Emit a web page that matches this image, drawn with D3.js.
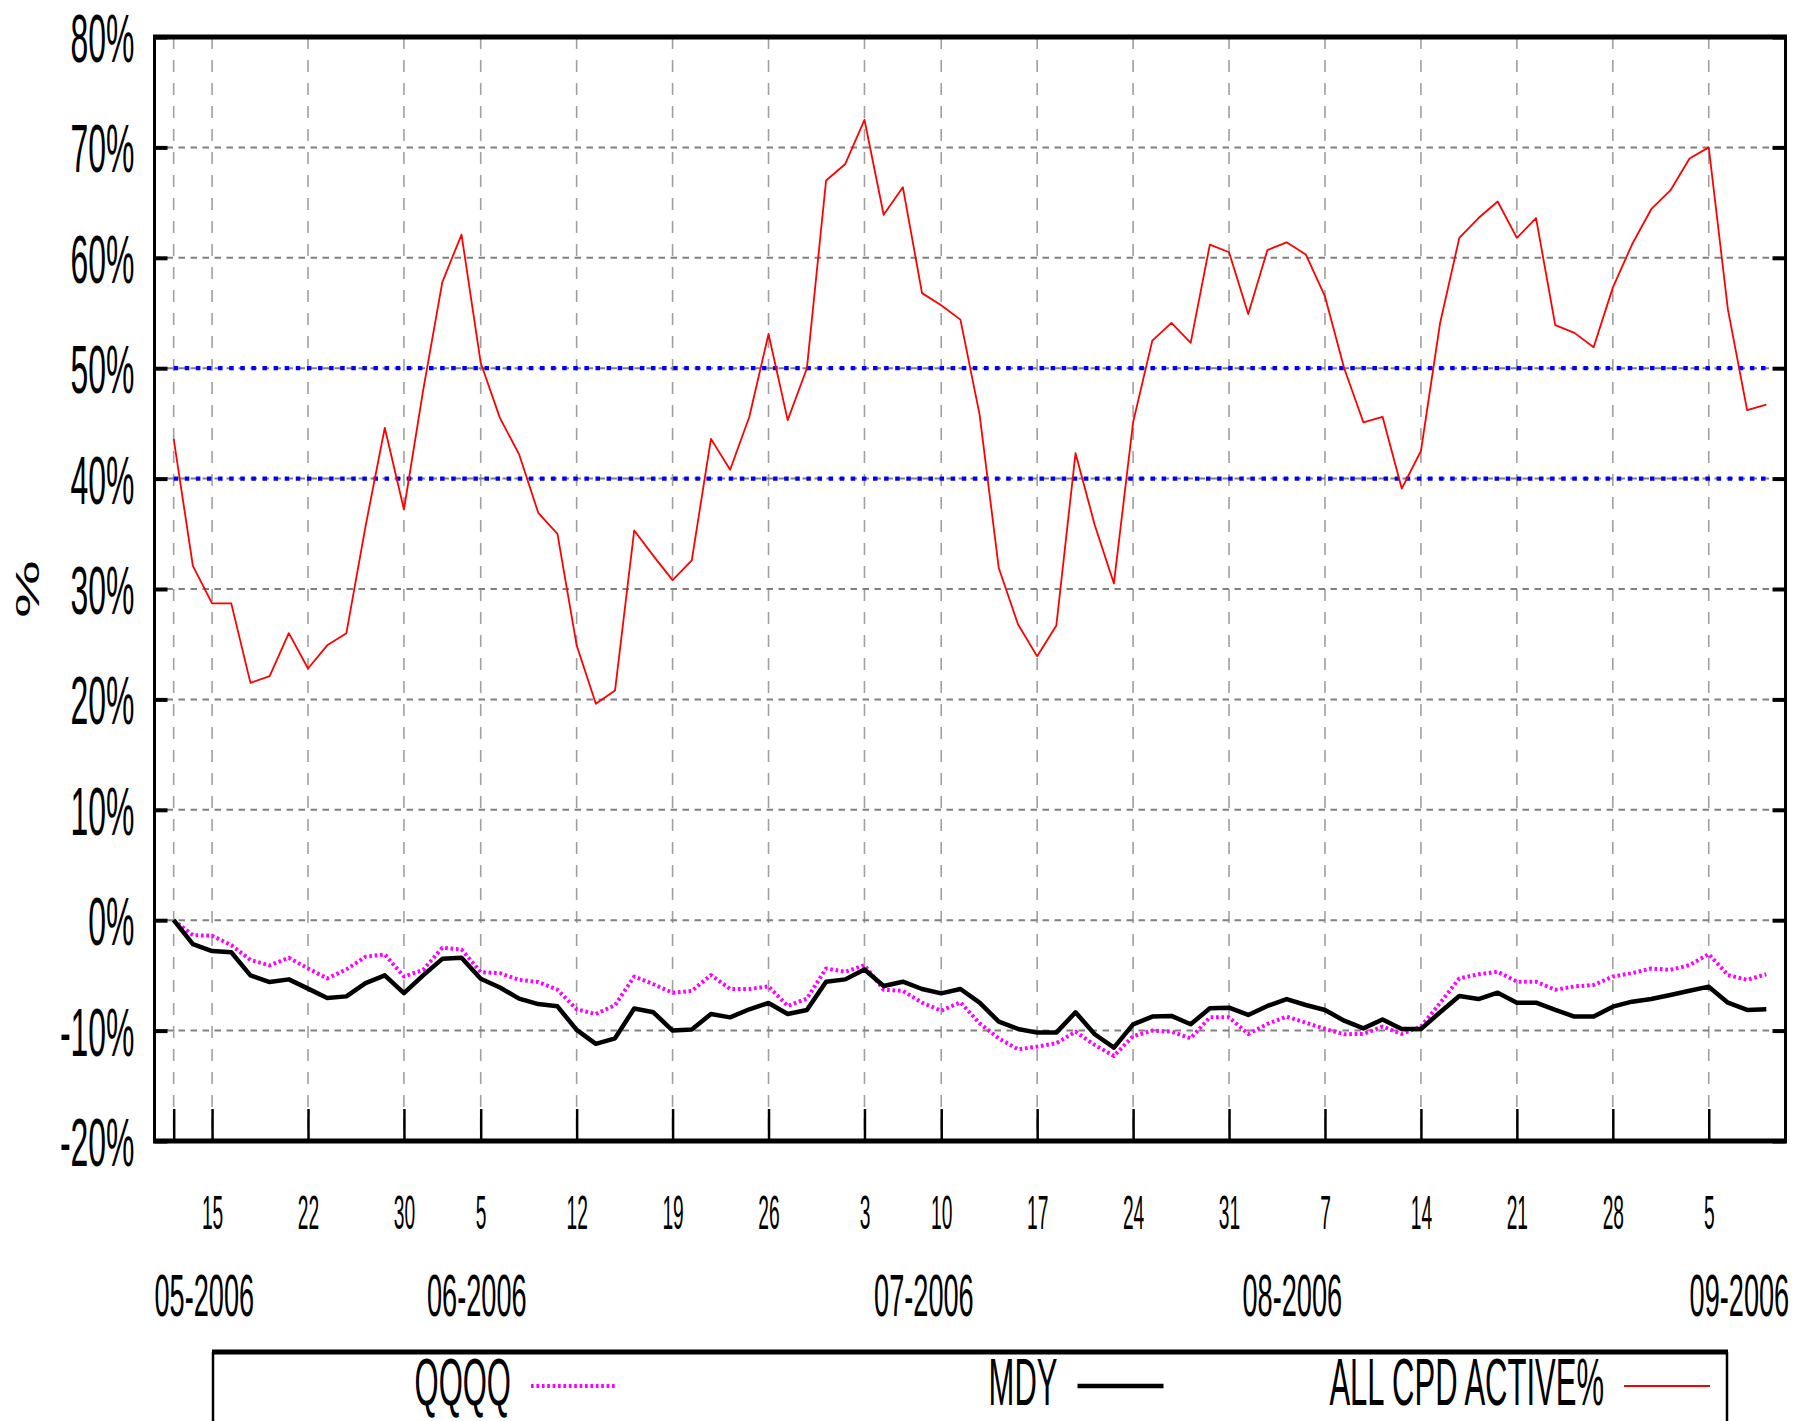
<!DOCTYPE html>
<html>
<head>
<meta charset="utf-8">
<script src="https://cdn.jsdelivr.net/npm/d3@7"></script>
<style>
  html, body { margin: 0; padding: 0; background: #fff; }
  svg { display: block; }
  text { font-family: "Liberation Sans", Arial, Helvetica, sans-serif; fill: #000; }
</style>
</head>
<body>
<svg id="chart" width="1798" height="1421"></svg>
<script>
// trading days 11 May 2006 .. 8 Sep 2006, one value per day (percent)
const qqqq = [0, -1.36, -1.4, -2.26, -3.6, -4.1, -3.4, -4.37, -5.27, -4.46,
  -3.3, -3.1, -5.1, -4.5, -2.5, -2.65, -4.7, -4.8, -5.4, -5.6,
  -6.3, -8.07, -8.5, -7.7, -5.1, -5.8, -6.57, -6.4, -4.97, -6.23,
  -6.23, -6.0, -7.77, -7.1, -4.37, -4.67, -4.07, -6.3, -6.4, -7.47,
  -8.2, -7.44, -9.34, -10.7, -11.7, -11.45, -11.14, -10.1, -11.3, -12.3,
  -10.5, -10.0, -10.1, -10.7, -8.8, -8.8, -10.3, -9.4, -8.73, -9.28,
  -9.85, -10.33, -10.3, -9.64, -10.3, -9.64, -7.5, -5.27, -4.9, -4.67,
  -5.57, -5.57, -6.3, -6.0, -5.87, -5.1, -4.8, -4.37, -4.5, -4.07,
  -3.07, -4.97, -5.4, -4.9];

const mdy = [0, -2.17, -2.8, -2.9, -5.0, -5.6, -5.36, -6.2, -7.05, -6.9,
  -5.7, -5.0, -6.6, -5.0, -3.5, -3.4, -5.3, -6.1, -7.1, -7.6,
  -7.8, -9.94, -11.2, -10.7, -8.0, -8.34, -10.0, -9.9, -8.5, -8.8,
  -8.07, -7.5, -8.5, -8.13, -5.57, -5.36, -4.46, -5.96, -5.57, -6.23,
  -6.63, -6.23, -7.47, -9.19, -9.85, -10.18, -10.18, -8.34, -10.33, -11.54,
  -9.43, -8.73, -8.67, -9.43, -7.98, -7.92, -8.58, -7.77, -7.14, -7.68,
  -8.13, -9.1, -9.8, -9.0, -9.85, -9.85, -8.34, -6.87, -7.14, -6.57,
  -7.47, -7.47, -8.13, -8.73, -8.73, -7.83, -7.38, -7.14, -6.78, -6.39,
  -6.02, -7.47, -8.13, -8.07];

const cpdActive = [43.6, 32.1, 28.7, 28.7, 21.5, 22.1, 26.0, 22.8, 24.9, 26.0,
  35.7, 44.6, 37.2, 48.0, 57.8, 62.1, 50.5, 45.5, 42.2, 36.9,
  35.0, 24.9, 19.6, 20.8, 35.3, 33.0, 30.8, 32.6, 43.6, 40.8,
  45.6, 53.1, 45.3, 50.0, 67.0, 68.5, 72.5, 63.9, 66.4, 56.8,
  55.7, 54.4, 45.8, 31.9, 26.8, 23.9, 26.7, 42.3, 35.8, 30.5,
  45.1, 52.5, 54.1, 52.3, 61.2, 60.5, 54.9, 60.7, 61.4, 60.3,
  56.5, 50.0, 45.1, 45.6, 39.1, 42.5, 54.1, 61.8, 63.6, 65.1,
  61.8, 63.6, 53.9, 53.2, 51.9, 57.3, 61.2, 64.4, 66.1, 69.0,
  70.0, 55.3, 46.2, 46.7];

const bands = [50, 40];

// week ticks: index of trading day, and its day-of-month label
const weekTicks = [0, 2, 7, 12, 16, 21, 26, 31, 36, 40, 45, 50, 55, 60, 65, 70, 75, 80];
const weekLabels = ['', '15', '22', '30', '5', '12', '19', '26', '3', '10', '17', '24', '31', '7', '14', '21', '28', '5'];
const months = ['05-2006', '06-2006', '07-2006', '08-2006', '09-2006'];
const monthStart = [-1, 13.2, 36.5, 55.7, 79];
const yTicks = [-20, -10, 0, 10, 20, 30, 40, 50, 60, 70, 80];
const legendNames = ['QQQQ', 'MDY', 'ALL CPD ACTIVE%'];

const styles = {
  QQQQ: { color: '#ff00ff', width: 4, dash: '2.7,2.7' },
  MDY: { color: '#000000', width: 4.5, dash: null },
  'ALL CPD ACTIVE%': { color: '#ff0000', width: 1.8, dash: null }
};
const seriesData = { QQQQ: qqqq, MDY: mdy, 'ALL CPD ACTIVE%': cpdActive };

const M = { left: 154.5, right: 1785.5, top: 37, bottom: 1141 };
const n = cpdActive.length;

const svg = d3.select('#chart');
const x = d3.scaleLinear().domain([-1, n]).range([M.left, M.right]);
const y = d3.scaleLinear().domain([-20, 80]).range([M.bottom, M.top]);

// squeeze text horizontally like the original narrow font
function squeeze(sel, sx) {
  sel.attr('transform', `scale(${sx},1)`);
}

// grid
const grid = svg.append('g').attr('class', 'grid');
grid.selectAll('.vgrid').data(weekTicks).join('line')
  .attr('x1', d => x(d)).attr('x2', d => x(d))
  .attr('y1', M.top).attr('y2', M.bottom)
  .attr('stroke', '#a0a0a0').attr('stroke-width', 1.6).attr('stroke-dasharray', '12,11');
grid.selectAll('.hgrid').data(yTicks.slice(1, -1)).join('line')
  .attr('x1', M.left).attr('x2', M.right)
  .attr('y1', d => y(d)).attr('y2', d => y(d))
  .attr('stroke', '#808080').attr('stroke-width', 2).attr('stroke-dasharray', '6.5,5.5');

const line = d3.line().x((d, i) => x(i)).y(d => y(d));

// 50% / 40% reference lines
svg.append('g').selectAll('path').data(bands).join('path')
  .attr('d', v => d3.line().x(d => x(d[0])).y(d => y(d[1]))([[0, v], [n - 1, v]]))
  .attr('fill', 'none').attr('stroke', '#0000ff').attr('stroke-width', 4.2)
  .attr('stroke-dasharray', '4.5,6.6');

// series
const drawOrder = ['QQQQ', 'MDY', 'ALL CPD ACTIVE%'];
svg.append('g').selectAll('path').data(drawOrder).join('path')
  .attr('d', k => line(seriesData[k]))
  .attr('fill', 'none')
  .attr('stroke', k => styles[k].color)
  .attr('stroke-width', k => styles[k].width)
  .attr('stroke-dasharray', k => styles[k].dash)
  .attr('stroke-linejoin', 'round');

// axes
const yAxis = svg.append('g').attr('transform', `translate(${M.left},0)`)
  .call(d3.axisLeft(y).tickValues(yTicks).tickFormat(d => d + '%')
    .tickSizeInner(-13).tickSizeOuter(0).tickPadding(20));
yAxis.select('.domain').remove();
yAxis.selectAll('.tick line').attr('stroke', '#000').attr('stroke-width', 4);
yAxis.selectAll('.tick text')
  .style('font-size', '68px').attr('font-family', null)
  .attr('x', -20 / 0.47).attr('dy', '0.36em')
  .call(squeeze, 0.47);

const yAxisR = svg.append('g').attr('transform', `translate(${M.right},0)`)
  .call(d3.axisRight(y).tickValues(yTicks).tickFormat('').tickSizeInner(-13).tickSizeOuter(0));
yAxisR.select('.domain').remove();
yAxisR.selectAll('.tick line').attr('stroke', '#000').attr('stroke-width', 4);

const xAxis = svg.append('g').attr('transform', `translate(0,${M.bottom})`)
  .call(d3.axisBottom(x).tickValues(weekTicks).tickFormat((d, i) => weekLabels[i])
    .tickSizeInner(-32).tickSizeOuter(0));
xAxis.select('.domain').remove();
xAxis.selectAll('.tick line').attr('stroke', '#000').attr('stroke-width', 2.5);
xAxis.selectAll('.tick text')
  .style('font-size', '48px').attr('font-family', null)
  .attr('y', 88).attr('dy', null)
  .call(squeeze, 0.4);

// month labels
svg.append('g').selectAll('text').data(months).join('text')
  .attr('transform', (d, i) => `translate(${x(monthStart[i])},1316) scale(0.464,1)`)
  .style('font-size', '58.5px')
  .text(d => d);

// y title
svg.append('text')
  .attr('transform', 'translate(27,589) scale(0.5,1) rotate(-90)')
  .attr('text-anchor', 'middle').attr('dy', '0.36em')
  .style('font-size', '65px')
  .text('%');

// plot border
const border = svg.append('g').attr('stroke', '#000').attr('fill', 'none');
border.append('line').attr('x1', M.left - 1.5).attr('x2', M.right + 1.5).attr('y1', M.top).attr('y2', M.top).attr('stroke-width', 5);
border.append('line').attr('x1', M.left - 1.5).attr('x2', M.right + 1.5).attr('y1', M.bottom).attr('y2', M.bottom).attr('stroke-width', 5);
border.append('line').attr('x1', M.left).attr('x2', M.left).attr('y1', M.top).attr('y2', M.bottom).attr('stroke-width', 3);
border.append('line').attr('x1', M.right).attr('x2', M.right).attr('y1', M.top).attr('y2', M.bottom).attr('stroke-width', 3);

// legend (box runs off the bottom of the picture, as in the original)
const L = { left: 213, right: 1727, top: 1352, firstEnd: 617, step: 546.5, sample: 86, gap: 20, base: 1405, lineY: 1386 };
const leg = svg.append('g');
leg.append('line').attr('x1', L.left - 1).attr('x2', L.right + 1).attr('y1', L.top).attr('y2', L.top)
  .attr('stroke', '#000').attr('stroke-width', 5);
leg.append('line').attr('x1', L.left).attr('x2', L.left).attr('y1', L.top).attr('y2', 1421)
  .attr('stroke', '#000').attr('stroke-width', 2.5);
leg.append('line').attr('x1', L.right).attr('x2', L.right).attr('y1', L.top).attr('y2', 1421)
  .attr('stroke', '#000').attr('stroke-width', 2.5);

const item = leg.selectAll('.item').data(legendNames).join('g')
  .attr('transform', (d, i) => `translate(${L.firstEnd + i * L.step},0)`);
item.append('line')
  .attr('x1', -L.sample).attr('x2', 0).attr('y1', L.lineY).attr('y2', L.lineY)
  .attr('stroke', d => styles[d].color)
  .attr('stroke-width', d => styles[d].width)
  .attr('stroke-dasharray', d => styles[d].dash);
item.append('text')
  .attr('transform', `translate(${-L.sample - L.gap},${L.base}) scale(0.47,1)`)
  .attr('text-anchor', 'end')
  .style('font-size', '66px')
  .text(d => d);
</script>
</body>
</html>
